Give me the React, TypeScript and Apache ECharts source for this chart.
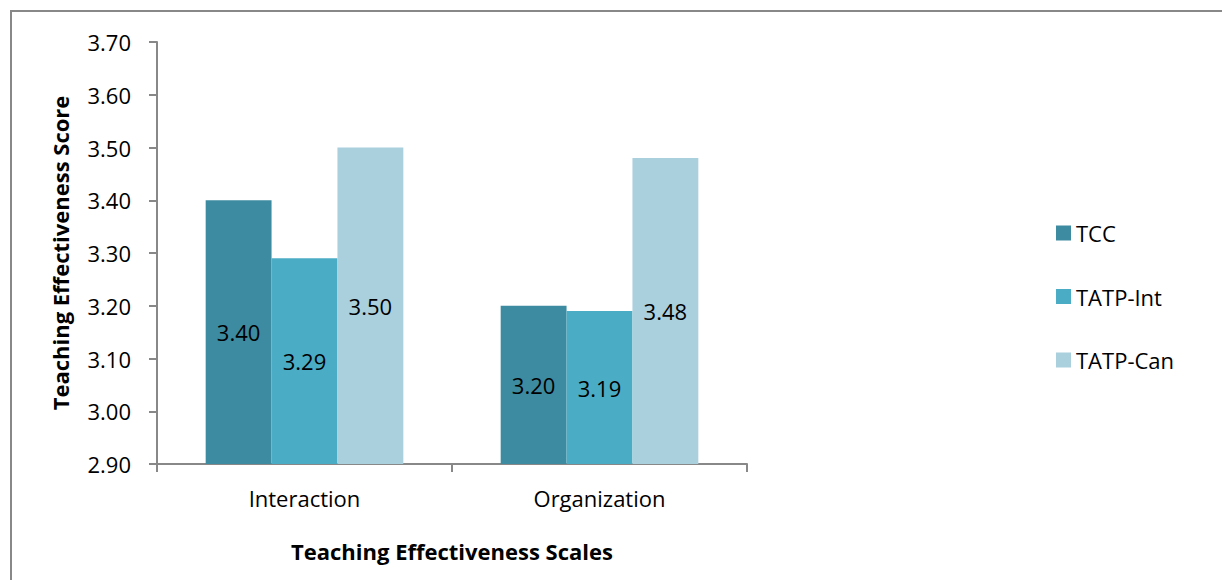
import React, { useEffect, useRef } from "react";
import * as echarts from "echarts";

const categories = ["Interaction", "Organization"];
const seriesNames = ["TCC", "TATP-Int", "TATP-Can"];
const tccValues = [3.4, 3.2];
const tatpIntValues = [3.29, 3.19];
const tatpCanValues = [3.5, 3.48];
const seriesColors = ["#3C8BA1", "#4BACC6", "#AACFDD"];

const FONT = "'Open Sans', sans-serif";

export default function App() {
  const ref = useRef<HTMLDivElement>(null);
  useEffect(() => {
    if (!ref.current) return;
    const chart = echarts.init(ref.current, null, { renderer: "svg" });
    const values = [tccValues, tatpIntValues, tatpCanValues];
    chart.setOption({
      animation: false,
      backgroundColor: "#ffffff",
      textStyle: { fontFamily: FONT },
      graphic: [
        {
          type: "rect",
          shape: { x: 11, y: 11, width: 1400, height: 800 },
          style: { fill: "none", stroke: "#888888", lineWidth: 2 },
          silent: true,
        },
      ],
      grid: { left: 157, top: 42, width: 590, height: 422 },
      legend: {
        orient: "vertical",
        left: 1051,
        top: 217,
        itemWidth: 15,
        itemHeight: 15,
        itemGap: 41.5,
        icon: "rect",
        textStyle: { fontSize: 22, color: "#000", fontFamily: FONT },
        data: seriesNames,
      },
      xAxis: {
        type: "category",
        data: categories,
        axisLine: { lineStyle: { color: "#888888", width: 2 } },
        axisTick: { show: true, length: 8, lineStyle: { color: "#888888", width: 2 } },
        axisLabel: { fontSize: 22, color: "#000", margin: 23, fontFamily: FONT },
        name: "Teaching Effectiveness Scales",
        nameLocation: "middle",
        nameGap: 76,
        nameTextStyle: { fontSize: 22, fontWeight: "bold", color: "#000", fontFamily: FONT },
      },
      yAxis: {
        type: "value",
        min: 2.9,
        max: 3.7,
        interval: 0.1,
        axisLine: { show: true, lineStyle: { color: "#888888", width: 2 } },
        axisTick: { show: true, length: 8, lineStyle: { color: "#888888", width: 2 } },
        splitLine: { show: false },
        axisLabel: {
          fontSize: 22,
          color: "#000",
          margin: 26,
          fontFamily: FONT,
          formatter: (v: number) => v.toFixed(2),
        },
        name: "Teaching Effectiveness Score",
        nameLocation: "middle",
        nameGap: 86,
        nameTextStyle: { fontSize: 22, fontWeight: "bold", color: "#000", fontFamily: FONT },
      },
      series: seriesNames.map((name, i) => ({
        name,
        type: "bar",
        data: values[i],
        barGap: "0%",
        barCategoryGap: "33%",
        itemStyle: { color: seriesColors[i] },
        label: {
          show: true,
          position: "inside",
          fontSize: 22,
          color: "#000",
          fontFamily: FONT,
          formatter: (p: any) => Number(p.value).toFixed(2),
        },
      })),
    });
    return () => chart.dispose();
  }, []);
  return (
    <div
      ref={ref}
      style={{ position: "absolute", left: 0, top: 0, width: 1222, height: 580 }}
    />
  );
}
